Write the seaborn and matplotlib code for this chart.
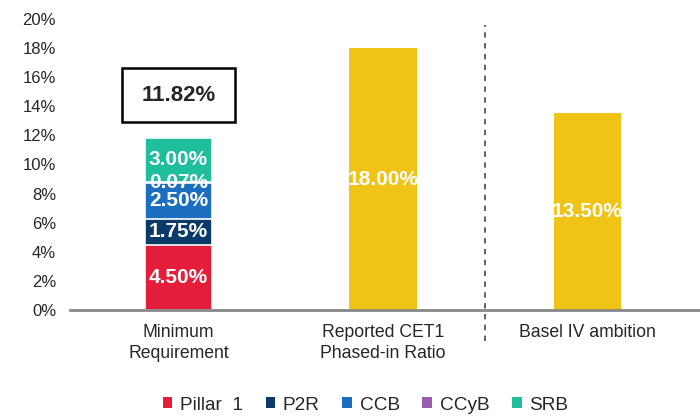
import numpy as np
import pandas as pd
import matplotlib.pyplot as plt
import seaborn as sns
from matplotlib.patches import Patch, Rectangle

categories = ['Minimum\nRequirement', 'Reported CET1\nPhased-in Ratio', 'Basel IV ambition']
components = ['Pillar  1', 'P2R', 'CCB', 'CCyB', 'SRB']
comp_values = [4.50, 1.75, 2.50, 0.07, 3.00]
comp_colors = ['#E41E3A', '#0A3A68', '#1B6EC0', '#9A5BAE', '#1FBE9C']
other_values = [18.00, 13.50]
total_label = '11.82%'
yticks = [0, 2, 4, 6, 8, 10, 12, 14, 16, 18, 20]

sns.set_style('white')
plt.rcParams['font.family'] = ['Liberation Sans', 'DejaVu Sans']

fig = plt.figure(figsize=(7, 4.19), dpi=100)
ax = fig.add_axes([0.1, 0.26, 0.9, 0.695])

# stacked bar: draw cumulative totals from the top down
cum = np.cumsum(comp_values)
for i in range(len(components) - 1, -1, -1):
    df = pd.DataFrame({'cat': categories, 'val': [cum[i], np.nan, np.nan]})
    sns.barplot(data=df, x='cat', y='val', order=categories, color=comp_colors[i],
                saturation=1, width=0.33, edgecolor='white', linewidth=1.2, ax=ax)

df2 = pd.DataFrame({'cat': categories[1:], 'val': other_values})
sns.barplot(data=df2, x='cat', y='val', order=categories, color='#F0C317',
            saturation=1, width=0.33, linewidth=0, ax=ax)

# segment labels
bottoms = np.concatenate([[0], cum[:-1]])
for b, v in zip(bottoms, comp_values):
    ax.text(0, b + v / 2, f'{v:.2f}%', ha='center', va='center', color='white',
            fontsize=15, fontweight='bold')
for i, v in enumerate(other_values, start=1):
    ax.text(i, v / 2, f'{v:.2f}%', ha='center', va='center', color='white',
            fontsize=15, fontweight='bold')

# total box
ax.add_patch(Rectangle((-0.275, 12.9), 0.55, 3.7, facecolor='white',
                       edgecolor='black', linewidth=1.8, zorder=5))
ax.text(0, 14.75, total_label, ha='center', va='center', fontsize=16,
        fontweight='bold', zorder=6)

# divider
ax.axvline(1.5, ymin=-0.105, ymax=0.98, color='#555555', linestyle=(0, (3, 3)),
           linewidth=1.3, clip_on=False)

ax.set_xlim(-0.53, 2.55)
ax.set_ylim(0, 20)
ax.set_yticks(yticks)
ax.set_yticklabels([f'{t}%' for t in yticks], fontsize=12)
ax.tick_params(axis='x', labelsize=12.7, length=0, pad=10)
ax.tick_params(axis='y', length=0, pad=10)
for lbl in ax.get_xticklabels():
    lbl.set_linespacing(1.35)
ax.set_xlabel('')
ax.set_ylabel('')
for s in ['left', 'right', 'top']:
    ax.spines[s].set_visible(False)
ax.spines['bottom'].set_color('#888888')
ax.spines['bottom'].set_linewidth(2)

handles = [Patch(facecolor=c, edgecolor='none') for c in comp_colors]
fig.legend(handles, components, loc='center', bbox_to_anchor=(0.522, 0.033),
           ncol=5, frameon=False, fontsize=13.7, handlelength=0.5, handleheight=0.5,
           handletextpad=0.4, columnspacing=1.2)

fig.savefig('out.png', dpi=100)
